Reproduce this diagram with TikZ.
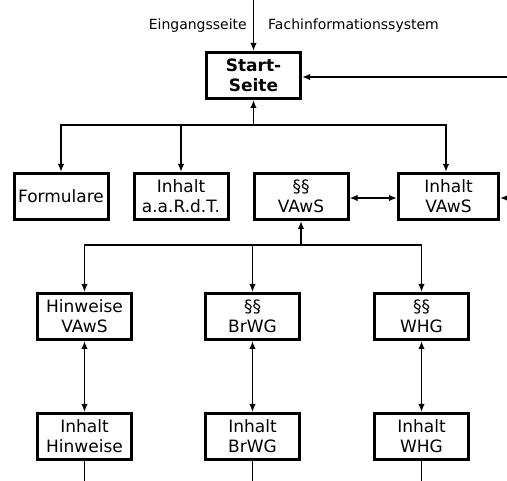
\documentclass[tikz,border=0pt]{standalone}
\usepackage{fontspec}
\setmainfont{DejaVu Sans}
\usetikzlibrary{arrows.meta}
\tikzset{
  box/.style={draw, line width=3pt, minimum width=94pt, minimum height=46pt, inner sep=1pt, align=center, font=\fontsize{17}{20}\selectfont},
  conn/.style={line width=1.6pt, >={Latex[length=8pt,width=6.5pt]}},
  lbl/.style={font=\fontsize{14}{16}\selectfont, inner sep=0pt}
}
\begin{document}
\begin{tikzpicture}[x=1pt,y=-1pt]
\useasboundingbox (0,0) rectangle (507,481);
% nodes
\node[box, font=\bfseries\fontsize{17}{20}\selectfont] (start) at (253.5,75.5) {Start-\\Seite};
\node[box] (form) at (61,196.5) {Formulare};
\node[box] (aard) at (181,196.5) {Inhalt\\a.a.R.d.T.};
\node[box] (pvaws) at (301,196.5) {§§\\VAwS};
\node[box, minimum width=100pt] (ivaws) at (448.5,196.5) {Inhalt\\VAwS};
\node[box] (hvaws) at (84.5,316.5) {Hinweise\\VAwS};
\node[box] (pbrwg) at (252.5,316.5) {§§\\BrWG};
\node[box] (pwhg) at (421.5,316.5) {§§\\WHG};
\node[box] (ihin) at (84.5,436.5) {Inhalt\\Hinweise};
\node[box] (ibrwg) at (252.5,436.5) {Inhalt\\BrWG};
\node[box] (iwhg) at (421.5,436.5) {Inhalt\\WHG};
\node[lbl, anchor=base east] (l1) at (247,30) {Eingangsseite};
\node[lbl, anchor=base west] (l2) at (268,30) {Fachinformationssystem};
% coordinates
\coordinate (top) at (253.5,0);
\coordinate (rin1) at (507,77);
\coordinate (rin2) at (507,198);
\coordinate (bus1) at (253.5,125);
\coordinate (bus2) at (301,245);
\coordinate (e1) at (84.5,481);
\coordinate (e2) at (252.5,481);
\coordinate (e3) at (421.5,481);
% connectors
\draw[conn,->] (top) -- (start);
\draw[conn,->] (rin1) -- (start.east |- rin1);
\draw[conn,<-] (start) -- (bus1);
\draw[conn,->] (bus1) -| (form);
\draw[conn,->] (bus1) -| (aard);
\draw[conn,->] (bus1) -| (ivaws.north -| 446,0);
\draw[conn,<->] (pvaws.east |- rin2) -- (ivaws.west |- rin2);
\draw[conn,->] (rin2) -- (ivaws.east |- rin2);
\draw[conn,<-] (pvaws) -- (bus2);
\draw[conn,->] (bus2) -| (hvaws);
\draw[conn,->] (bus2) -| (pbrwg);
\draw[conn,->] (bus2) -| (pwhg);
\draw[conn,<->] (hvaws) -- (ihin);
\draw[conn,<->] (pbrwg) -- (ibrwg);
\draw[conn,<->] (pwhg) -- (iwhg);
\draw[conn] (ihin) -- (e1);
\draw[conn] (ibrwg) -- (e2);
\draw[conn] (iwhg) -- (e3);
\end{tikzpicture}
\end{document}
